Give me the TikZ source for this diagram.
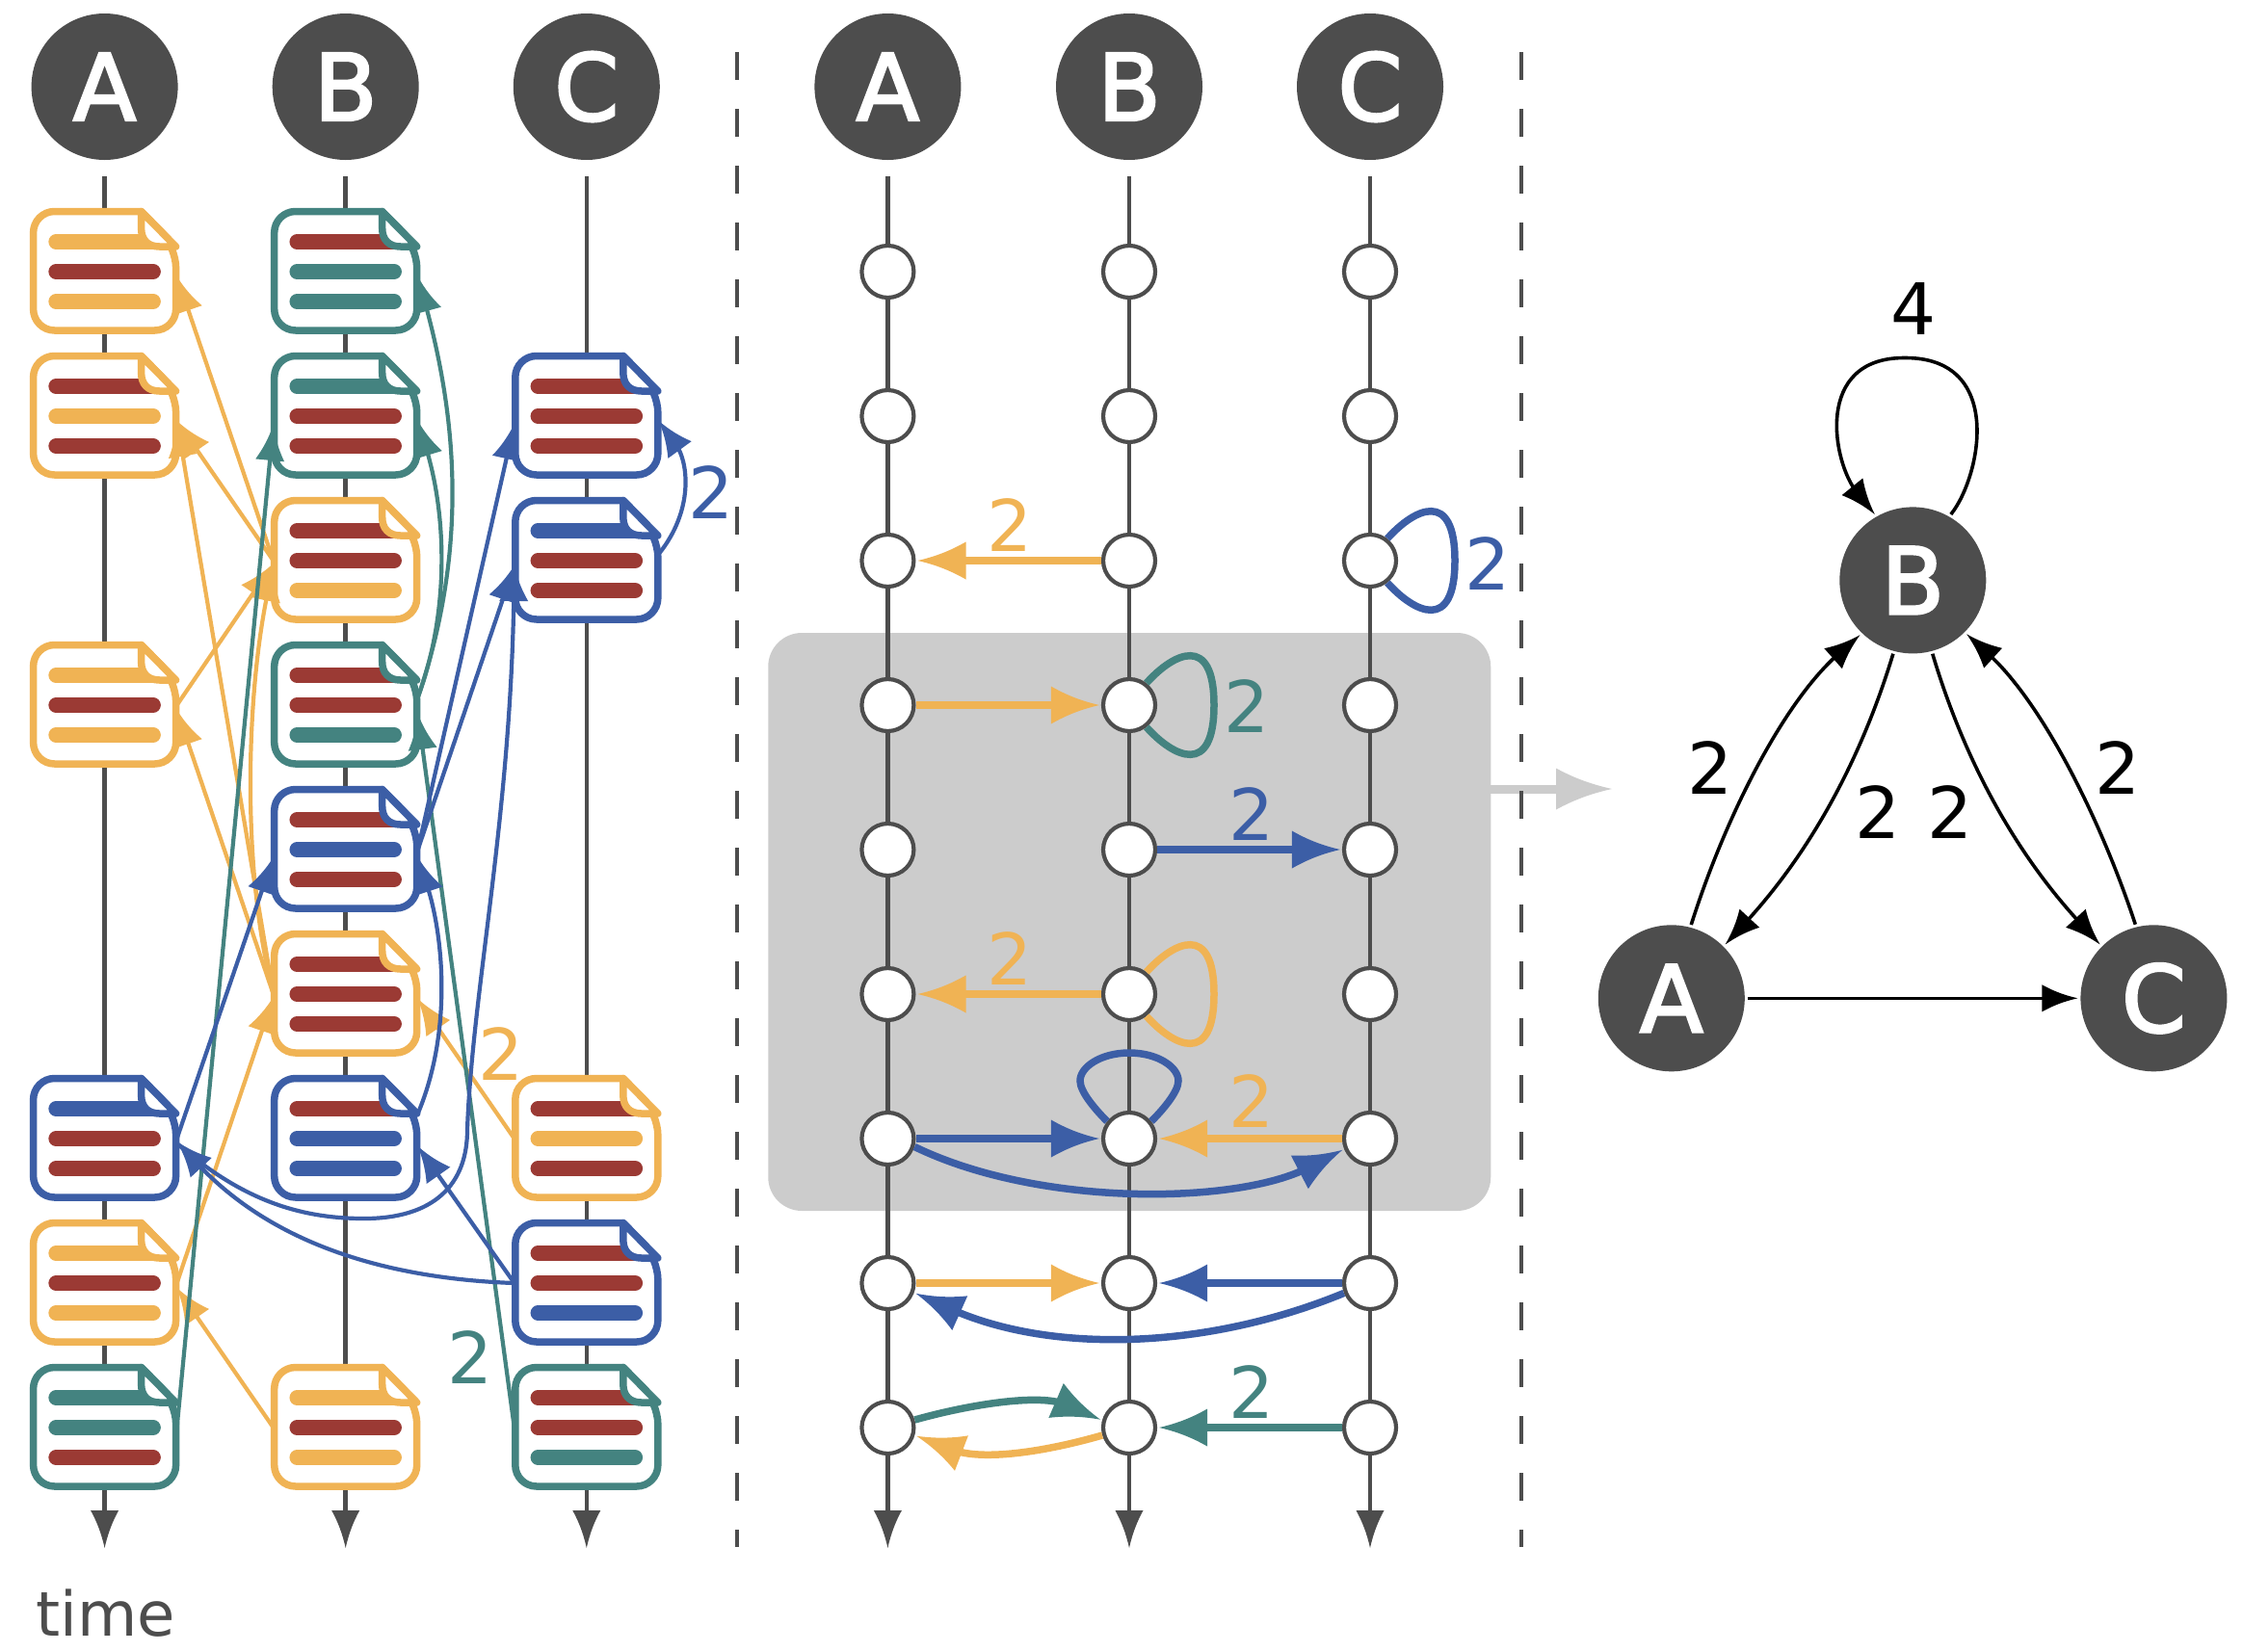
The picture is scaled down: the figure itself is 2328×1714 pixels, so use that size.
\documentclass[tikz,border=0pt]{standalone}
\usepackage{fontspec}
\setmainfont{DejaVu Sans}
\newfontfamily\hdrfont[FakeBold=2.6]{DejaVu Sans}
\usetikzlibrary{arrows.meta,topaths}
\definecolor{cOr}{HTML}{F0B354}
\definecolor{cRe}{HTML}{9B3A34}
\definecolor{cTe}{HTML}{448380}
\definecolor{cBl}{HTML}{3C5EA6}
\definecolor{cDk}{HTML}{4D4D4D}
\definecolor{cGy}{HTML}{CCCCCC}
\pgfdeclarearrow{
  name=Curvy,
  defaults={length=50pt,width=37pt},
  setup code={
    \pgfarrowssettipend{0pt}
    \pgfarrowssetlineend{-.8\pgfarrowlength}
    \pgfarrowssetvisualbackend{-\pgfarrowlength}
    \pgfarrowssetbackend{-\pgfarrowlength}
    \pgfarrowshullpoint{0pt}{0pt}
    \pgfarrowshullpoint{-\pgfarrowlength}{.5\pgfarrowwidth}
    \pgfarrowshullpoint{-\pgfarrowlength}{-.5\pgfarrowwidth}
    \pgfarrowssavethe\pgfarrowlength
    \pgfarrowssavethe\pgfarrowwidth
  },
  drawing code={
    \pgfpathmoveto{\pgfpointorigin}
    \pgfpathcurveto{\pgfqpoint{-.4\pgfarrowlength}{.12\pgfarrowwidth}}{\pgfqpoint{-.7\pgfarrowlength}{.28\pgfarrowwidth}}{\pgfqpoint{-\pgfarrowlength}{.5\pgfarrowwidth}}
    \pgfpathlineto{\pgfqpoint{-\pgfarrowlength}{-.5\pgfarrowwidth}}
    \pgfpathcurveto{\pgfqpoint{-.7\pgfarrowlength}{-.28\pgfarrowwidth}}{\pgfqpoint{-.4\pgfarrowlength}{-.12\pgfarrowwidth}}{\pgfpointorigin}
    \pgfpathclose
    \pgfusepathqfill
  },
  parameters={\the\pgfarrowlength,\the\pgfarrowwidth},
}
\tikzset{
  x=1pt,y=-1pt,
  hdr/.style={circle,fill=cDk,minimum size=152pt,inner sep=0pt,outer sep=3pt,text=white,font=\hdrfont\fontsize{96}{96}\selectfont},
  tline/.style={draw=cDk,line width=4.5pt,-{Curvy[length=39pt,width=29pt]},shorten <=14pt},
  dashline/.style={draw=cDk,line width=4pt,dash pattern=on 29pt off 30pt},
  cardnode/.style={rectangle,minimum width=150pt,minimum height=124pt,inner sep=0pt,outer sep=0pt},
  cardline/.style={line width=7.5pt,line join=round},
  barline/.style={line width=15.5pt,line cap=round},
  la/.style={line width=4.2pt,-{Curvy[length=37pt,width=30pt]}},
  ma/.style={line width=7.5pt,-{Curvy[length=50pt,width=39pt]},shorten >=2pt},
  mloop/.style={line width=7.5pt},
  mnode/.style={circle,draw=cDk,fill=white,line width=4.2pt,minimum size=54pt,inner sep=0pt},
  ga/.style={draw=black,line width=3.6pt,-{Curvy[length=37pt,width=28pt]}},
  lab/.style={inner sep=0pt,font=\fontsize{74}{74}\selectfont},
}
\newcommand\doccard[7]{%
  \node[cardnode] (#1) at (#2,#3) {};
  \begin{scope}[shift={(#2,#3)}]
    \draw[cardline,draw=#4,fill=white] (38,-62.5) [rounded corners=22pt] -- (-74,-62.5) -- (-74,61) -- (74,61) -- (74,-26) [sharp corners] -- cycle;
    \draw[barline,#5] (-50.5,-31) -- (50.5,-31);
    \draw[barline,#6] (-50.5,0) -- (50.5,0);
    \draw[barline,#7] (-50.5,31) -- (50.5,31);
    \draw[cardline,draw=#4,fill=white] (38,-62.5) -- (38,-45) .. controls (38,-33) and (45,-26) .. (57,-26) -- (74,-26) -- cycle;
  \end{scope}}
\newcommand\rightloop[2]{\draw[mloop,#2] (#1.52) to[out=48,in=90,out distance=42pt,in distance=75pt] ([xshift=88pt]#1.center) to[out=-90,in=-48,out distance=75pt,in distance=42pt] (#1.-52);}
\begin{document}
\begin{tikzpicture}
\useasboundingbox (0,0) rectangle (2328,1714);
% ---------- background of the middle panel
\node[rectangle,rounded corners=35pt,fill=cGy,minimum width=750pt,minimum height=600pt,inner sep=0pt] (zone) at (1172.25,957) {};
\coordinate (grayTip) at (1673,819);
\draw[draw=cGy,line width=9pt,-{Curvy[length=58pt,width=43pt]}] ([yshift=138pt]zone.east) -- (grayTip);
\coordinate (dL0) at (765,54); \coordinate (dL1) at (765,1606);
\coordinate (dR0) at (1578.5,54); \coordinate (dR1) at (1578.5,1606);
\draw[dashline] (dL0) -- (dL1);
\draw[dashline] (dR0) -- (dR1);
% ---------- headers and time lines
\foreach \n/\t/\x in {lA/A/108.6,lB/B/358.7,lC/C/608.8,mA/A/921.4,mB/B/1172,mC/C/1422}{
  \node[hdr] (h\n) at (\x,90) {\t};
  \coordinate (e\n) at (\x,1607);
  \draw[tline] (h\n) -- (e\n);
}
\node[inner sep=0pt,text=cDk,font=\fontsize{64}{64}\selectfont] (timelabel) at (109.5,1675) {time};
% ---------- left panel: cards
\doccard{A0}{108.6}{282}{cOr}{cOr}{cRe}{cOr}
\doccard{A1}{108.6}{432}{cOr}{cRe}{cOr}{cRe}
\doccard{A3}{108.6}{732}{cOr}{cOr}{cRe}{cOr}
\doccard{A6}{108.6}{1182}{cBl}{cBl}{cRe}{cRe}
\doccard{A7}{108.6}{1332}{cOr}{cOr}{cRe}{cOr}
\doccard{A8}{108.6}{1482}{cTe}{cTe}{cTe}{cRe}
\doccard{B0}{358.7}{282}{cTe}{cRe}{cTe}{cTe}
\doccard{B1}{358.7}{432}{cTe}{cTe}{cRe}{cRe}
\doccard{B2}{358.7}{582}{cOr}{cRe}{cRe}{cOr}
\doccard{B3}{358.7}{732}{cTe}{cRe}{cRe}{cTe}
\doccard{B4}{358.7}{882}{cBl}{cRe}{cBl}{cRe}
\doccard{B5}{358.7}{1032}{cOr}{cRe}{cRe}{cRe}
\doccard{B6}{358.7}{1182}{cBl}{cRe}{cBl}{cBl}
\doccard{B8}{358.7}{1482}{cOr}{cOr}{cRe}{cOr}
\doccard{C1}{608.8}{432}{cBl}{cRe}{cRe}{cRe}
\doccard{C2}{608.8}{582}{cBl}{cBl}{cRe}{cRe}
\doccard{C6}{608.8}{1182}{cOr}{cRe}{cOr}{cRe}
\doccard{C7}{608.8}{1332}{cBl}{cRe}{cRe}{cBl}
\doccard{C8}{608.8}{1482}{cTe}{cRe}{cRe}{cTe}
% ---------- left panel: orange messages
\begin{scope}[cOr]
\draw[la] (B2.west) -- ([yshift=-5pt]A0.east);
\draw[la] (B2.west) -- ([yshift=-5pt]A1.east);
\draw[la] (A3.east) -- ([yshift=-3pt]B2.west);
\draw[la] (B5.west) -- ([yshift=-5pt]A1.east);
\draw[la] (B5.west) -- ([yshift=-5pt]A3.east);
\draw[la] (A7.east) -- ([yshift=-3pt]B5.west);
\draw[la] (B8.west) -- ([yshift=-5pt]A7.east);
\draw[la] (B5.west) .. controls (250,900) and (256,720) .. ([yshift=-5pt]B2.west);
\draw[la] (C6.west) -- ([yshift=-5pt]B5.east);
\end{scope}
% ---------- left panel: teal messages
\begin{scope}[cTe]
\draw[la] ([yshift=8pt]B3.east) .. controls (490,560) and (470,420) .. ([yshift=-5pt]B0.east);
\draw[la] ([yshift=8pt]B3.east) .. controls (465,640) and (465,540) .. ([yshift=-5pt]B1.east);
\draw[la] (C8.west) -- ([yshift=-9pt]B3.east);
\draw[la] (A8.east) -- ([yshift=-9pt]B1.west);
\end{scope}
% ---------- left panel: blue messages
\begin{scope}[cBl]
\draw[la] ([yshift=7pt]C2.east) .. controls (720,530) and (715,480) .. ([yshift=-5pt]C1.east);
\draw[la] (B4.east) -- ([yshift=-8pt]C1.west);
\draw[la] (B4.east) -- ([yshift=-5pt]C2.west);
\draw[la] (A6.east) -- ([yshift=-8pt]B4.west);
\draw[la] ([yshift=26pt]B6.east) .. controls (470,1070) and (460,970) .. ([yshift=-8pt]B4.east);
\draw[la] (C7.west) -- ([yshift=-8pt]B6.east);
\draw[la] (C7.west) .. controls (420,1328) and (290,1300) .. ([yshift=-3pt]A6.east);
\draw[la] ([yshift=-5pt]A6.east) .. controls (250,1245) and (310,1265) .. (378,1265) .. controls (450,1265) and (485,1230) .. (485,1173) .. controls (490,1030) and (530,850) .. ([yshift=-5pt]C2.west);
\end{scope}
\node[lab,text=cBl] (l2a) at (738,511) {2};
\node[lab,text=cOr] (l2b) at (520,1094) {2};
\node[lab,text=cTe] (l2c) at (488,1409) {2};
% ---------- middle panel: nodes
\foreach \c/\x in {A/921.4,B/1172,C/1422}{
  \foreach \r in {0,...,8}{
    \node[mnode] (m\c\r) at (\x,{282+150*\r}) {};
  }
}
% ---------- middle panel: messages
\draw[ma,cOr] (mB2) -- (mA2);
\rightloop{mC2}{cBl}
\draw[ma,cOr] (mA3) -- (mB3);
\rightloop{mB3}{cTe}
\draw[ma,cBl] (mB4) -- (mC4);
\draw[ma,cOr] (mB5) -- (mA5);
\rightloop{mB5}{cOr}
\draw[ma,cBl] (mA6) -- (mB6);
\draw[ma,cOr] (mC6) -- (mB6);
\draw[mloop,cBl] (mB6.142) to[out=135,in=-90,out distance=15pt,in distance=12pt] ([xshift=-51pt,yshift=60pt]mB6.center) to[out=90,in=180,out distance=14pt,in distance=30pt] ([yshift=89pt]mB6.center) to[out=0,in=90,out distance=30pt,in distance=14pt] ([xshift=51pt,yshift=60pt]mB6.center) to[out=-90,in=45,out distance=12pt,in distance=15pt] (mB6.38);
\draw[ma,cBl] (mA6.-17) .. controls (1080,1254) and (1285,1250) .. (mC6.202);
\draw[ma,cOr] (mA7) -- (mB7);
\draw[ma,cBl] (mC7) -- (mB7);
\draw[ma,cBl] (mC7.201) .. controls (1250,1402) and (1090,1405) .. (mA7.-20);
\draw[ma,cTe] (mA8.16) .. controls (1010,1457) and (1080,1447) .. (mB8.165);
\draw[ma,cOr] (mB8.196) .. controls (1085,1507) and (1020,1517) .. (mA8.-16);
\draw[ma,cTe] (mC8) -- (mB8);
\node[lab,text=cOr] (m2a) at (1048.5,545) {2};
\node[lab,text=cBl] (m2b) at (1544,585) {2};
\node[lab,text=cTe] (m2c) at (1294,733) {2};
\node[lab,text=cBl] (m2d) at (1299,845) {2};
\node[lab,text=cOr] (m2e) at (1048.5,995) {2};
\node[lab,text=cOr] (m2f) at (1299,1143) {2};
\node[lab,text=cTe] (m2g) at (1299,1445) {2};
% ---------- right panel
\node[hdr] (gB) at (1985.3,602.4) {B};
\node[hdr] (gA) at (1734.8,1036.3) {A};
\node[hdr] (gC) at (2235.4,1036.3) {C};
\draw[ga] (gA) -- (gC);
\draw[ga] (gA.75) .. controls (1790,850) and (1850,730) .. (gB.226);
\draw[ga] (gB.-105) .. controls (1925,810) and (1865,900) .. (gA.45);
\draw[ga] (gB.-75) .. controls (2045,810) and (2105,900) .. (gC.135);
\draw[ga] (gC.104.5) .. controls (2180,850) and (2120,730) .. (gB.-45.5);
\draw[ga] (gB.60) .. controls (2056,495) and (2081,371) .. (1977,371.5) .. controls (1882,371) and (1902,480) .. (gB.120);
\node[lab] (g4) at (1986,320.5) {4};
\node[lab] (g2a) at (1775,796.6) {2};
\node[lab] (g2b) at (1949,843) {2};
\node[lab] (g2c) at (2024,843) {2};
\node[lab] (g2d) at (2198,796.6) {2};
\end{tikzpicture}
\end{document}
